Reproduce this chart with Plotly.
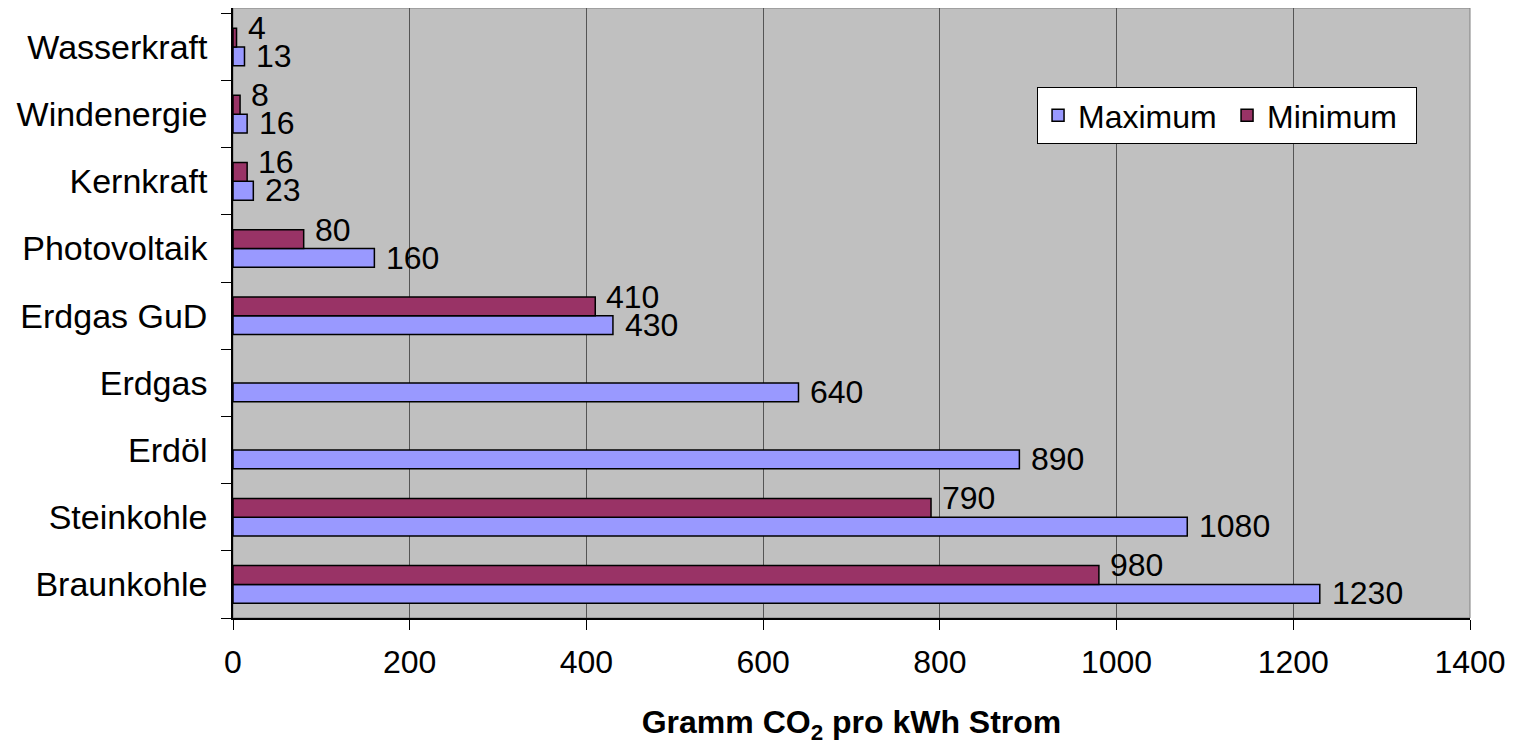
import plotly.graph_objects as go

categories = ["Braunkohle", "Steinkohle", "Erdöl", "Erdgas", "Erdgas GuD",
              "Photovoltaik", "Kernkraft", "Windenergie", "Wasserkraft"]
maximum = [1230, 1080, 890, 640, 430, 160, 23, 16, 13]
minimum = [980, 790, None, None, 410, 80, 16, 8, 4]
x_ticks = [0, 200, 400, 600, 800, 1000, 1200, 1400]

FONT = "Liberation Sans, Arial, sans-serif"

fig = go.Figure()
fig.add_trace(go.Bar(y=categories, x=maximum, orientation="h", name="Maximum",
                     marker=dict(color="#9999FF", line=dict(color="black", width=1.5))))
fig.add_trace(go.Bar(y=categories, x=minimum, orientation="h", name="Minimum",
                     marker=dict(color="#993366", line=dict(color="black", width=1.5))))

ann = []
for c, v in zip(categories, maximum):
    ann.append(dict(x=v, y=c, text=str(v), showarrow=False, xanchor="left",
                    yanchor="middle", xshift=10, yshift=-9,
                    font=dict(size=32, color="black", family=FONT)))
for c, v in zip(categories, minimum):
    if v is None:
        continue
    ann.append(dict(x=v, y=c, text=str(v), showarrow=False, xanchor="left",
                    yanchor="middle", xshift=9, yshift=19,
                    font=dict(size=32, color="black", family=FONT)))

fig.update_layout(
    width=1515, height=737,
    margin=dict(l=225, r=53, t=0, b=127),
    paper_bgcolor="white", plot_bgcolor="#C0C0C0",
    barmode="group", bargap=0.44, bargroupgap=0,
    font=dict(family=FONT, size=33, color="black"),
    annotations=ann,
    legend=dict(orientation="h", x=0.650, y=0.824, xanchor="left", yanchor="middle",
                bgcolor="white", bordercolor="black", borderwidth=1,
                font=dict(size=32), traceorder="normal", entrywidth=144),
    shapes=[dict(type="rect", xref="x domain", yref="y domain", x0=0, x1=1, y0=0, y1=1,
                 line=dict(color="#808080", width=1), layer="below")],
    xaxis=dict(range=[0, 1400], tickvals=x_ticks, showgrid=True, gridcolor="#555555",
               gridwidth=1, zeroline=False, showline=True, linecolor="black", linewidth=1.5,
               ticks="outside", ticklen=10, tickcolor="black", tickfont=dict(size=32),
               ticklabelstandoff=5, automargin=False,
               title=dict(text="<b>Gramm CO<sub>2</sub> pro kWh Strom</b>",
                          font=dict(size=32), standoff=34)),
    yaxis=dict(type="category", categoryorder="array", categoryarray=categories,
               showgrid=False, showline=True, linecolor="black", linewidth=1.5,
               ticks="outside", ticklen=10, tickcolor="black", tickson="boundaries",
               tickfont=dict(size=34), ticklabelstandoff=17, automargin=False),
)

fig.write_html("out.html")
